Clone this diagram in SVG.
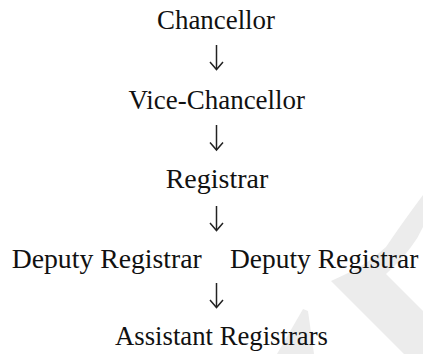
<svg xmlns="http://www.w3.org/2000/svg" width="423" height="354" viewBox="0 0 423 354">
  <style>
    .lbl { font-family: "Liberation Serif", "Times New Roman", serif; font-size: 27px; fill: #111; }
    .arr { fill: none; stroke: #222; stroke-width: 1.5; }
    .wm { fill: #ececec; stroke: none; }
  </style>
  <rect width="423" height="354" fill="#ffffff"/>
  <g id="watermark">
    <path class="wm" d="M423,195 Q400,226 386,247 Q365,266 346,274 L331,281 L404,354 L423,354 L423,311 L386,274 Q402,259 411,247 Q418,238 423,227 Z"/>
    <path class="wm" d="M277,354 L303,309 L308,311 L314,354 Z"/>
  </g>
  <g id="connectors">
    <path class="arr" d="M216.5,45 V69"/>
    <path class="arr" d="M210,62 L216.5,69.5 L223,62"/>
    <path class="arr" d="M216.5,125 V149.5"/>
    <path class="arr" d="M210,142.5 L216.5,150 L223,142.5"/>
    <path class="arr" d="M216.5,206 V230"/>
    <path class="arr" d="M210,223 L216.5,230.5 L223,223"/>
    <path class="arr" d="M216.5,283 V307"/>
    <path class="arr" d="M210,300 L216.5,307.5 L223,300"/>
  </g>
  <g id="chancellor"><text class="lbl" x="157" y="29" textLength="118" lengthAdjust="spacingAndGlyphs">Chancellor</text></g>
  <g id="vice-chancellor"><text class="lbl" x="128.5" y="108.5" textLength="176.5" lengthAdjust="spacingAndGlyphs">Vice-Chancellor</text></g>
  <g id="registrar"><text class="lbl" x="165.7" y="188.3" textLength="102.6" lengthAdjust="spacingAndGlyphs">Registrar</text></g>
  <g id="deputy-registrar-1"><text class="lbl" x="11.7" y="268.3" textLength="190" lengthAdjust="spacingAndGlyphs">Deputy Registrar</text></g>
  <g id="deputy-registrar-2"><text class="lbl" x="230" y="268.3" textLength="188.3" lengthAdjust="spacingAndGlyphs">Deputy Registrar</text></g>
  <g id="assistant-registrars"><text class="lbl" x="115" y="345" textLength="213" lengthAdjust="spacingAndGlyphs">Assistant Registrars</text></g>
</svg>
